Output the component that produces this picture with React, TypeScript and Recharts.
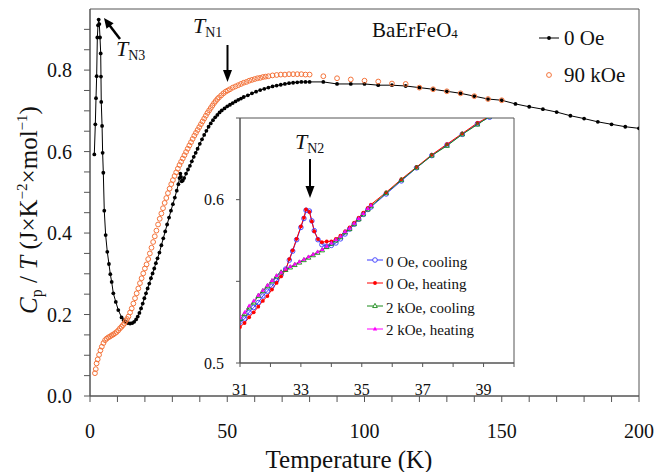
import React from 'react';
import { ComposedChart, Line, XAxis, YAxis, ReferenceArea } from 'recharts';

// ---------- Main chart data ----------
const zeroOeT = [
  1.57, 1.94, 2.19, 2.43, 2.67, 2.91, 3.16, 3.4, 3.64, 3.9, 4.0, 4.1, 4.4, 4.6, 4.85, 5.2, 5.7, 6.3, 6.9, 7.4,
  7.9, 8.5, 9.4, 10.3, 11.5, 12.3, 13.0, 13.8, 14.6, 15.4, 16.1, 16.8, 17.4, 18.0, 18.6, 19.2, 19.8, 20.4, 21.0, 21.6,
  22.2, 22.8, 23.4, 24.0, 24.6, 25.3, 26.0, 26.7, 27.4, 28.1, 28.8, 29.5, 30.2, 30.9, 31.6, 32.2, 32.6, 32.9, 33.1, 33.4,
  33.8, 34.3, 35.0, 35.7, 36.4, 37.1, 37.8, 38.5, 39.2, 40.0, 40.8, 41.6, 42.4, 43.2, 44.0, 44.8, 45.6, 46.4, 47.2, 48.0,
  49.0, 50.0, 51.0, 52.0, 53.0, 54.0, 55.0, 56.0, 57.5, 59.0, 60.5, 62.0, 63.5, 65.0, 66.5, 68.0, 69.5, 71.0, 72.5, 74.0,
  75.5, 77.0, 78.5, 80.0, 85, 90, 95, 100, 105, 110, 115, 120, 125, 130, 135, 140, 145, 150, 155, 160,
  165, 170, 175, 180, 185, 190, 195, 200,
];
const zeroOeCp = [
  0.593, 0.667, 0.731, 0.785, 0.88, 0.91, 0.924, 0.913, 0.88, 0.841, 0.784, 0.722, 0.663, 0.597, 0.548, 0.455, 0.395, 0.354, 0.324, 0.299,
  0.28, 0.252, 0.231, 0.211, 0.193, 0.186, 0.182, 0.179, 0.178, 0.179, 0.182, 0.188, 0.195, 0.204, 0.215, 0.227, 0.24, 0.252, 0.264, 0.276,
  0.289, 0.301, 0.313, 0.326, 0.338, 0.352, 0.37, 0.387, 0.404, 0.421, 0.438, 0.455, 0.471, 0.487, 0.504, 0.52, 0.535, 0.546, 0.538, 0.527,
  0.529, 0.535, 0.546, 0.556, 0.565, 0.576, 0.587, 0.597, 0.607, 0.619, 0.63, 0.641, 0.651, 0.661, 0.669, 0.677, 0.684, 0.69, 0.696, 0.701,
  0.706, 0.711, 0.715, 0.719, 0.723, 0.727, 0.73, 0.734, 0.738, 0.743, 0.747, 0.751, 0.754, 0.757, 0.76, 0.762, 0.764, 0.766, 0.768, 0.769,
  0.77, 0.771, 0.771, 0.771, 0.771, 0.766, 0.766, 0.766, 0.763, 0.763, 0.761, 0.757, 0.753, 0.748, 0.743, 0.736, 0.729, 0.726, 0.717, 0.71,
  0.704, 0.697, 0.688, 0.681, 0.673, 0.667, 0.661, 0.657,
];

const kOe90T = [
  1.8, 2.1, 2.4, 2.8, 3.3, 3.8, 4.3, 4.9, 5.5, 6.1, 6.7, 7.3, 7.9, 8.5, 9.1, 9.7, 10.3, 10.9, 11.5, 12.0,
  12.5, 13.0, 13.5, 14.0, 14.6, 15.2, 15.8, 16.4, 17.0, 17.6, 18.2, 18.8, 19.4, 20.0, 20.6, 21.2, 21.8, 22.4, 23.0, 23.6,
  24.2, 24.8, 25.4, 26.0, 26.6, 27.2, 27.8, 28.4, 29.0, 29.6, 30.2, 30.8, 31.4, 32.0, 32.6, 33.2, 33.8, 34.4, 35.0, 35.6,
  36.2, 36.8, 37.4, 38.0, 38.6, 39.2, 39.8, 40.4, 41.0, 41.6, 42.2, 42.8, 43.4, 44.0, 44.6, 45.2, 45.8, 46.4, 47.0, 47.8,
  48.6, 49.4, 50.2, 51.0, 52.0, 53.0, 54.0, 55.0, 56.0, 57.0, 58.0, 59.0, 60.0, 61.0, 62.0, 63.0, 64.0, 65.0, 66.5, 68.0,
  69.5, 71.0, 72.5, 74.0, 75.5, 77.0, 78.5, 80.0, 85, 90, 95, 100, 105, 110, 115, 120, 125, 130, 135, 140,
  145, 150,
];
const kOe90Cp = [
  0.056, 0.066, 0.08, 0.09, 0.101, 0.112, 0.121, 0.13, 0.137, 0.141, 0.144, 0.146, 0.149, 0.151, 0.154, 0.157, 0.161, 0.166, 0.17, 0.174,
  0.178, 0.184, 0.189, 0.195, 0.205, 0.215, 0.227, 0.24, 0.252, 0.264, 0.277, 0.289, 0.301, 0.313, 0.323, 0.336, 0.35, 0.364, 0.378, 0.392,
  0.406, 0.421, 0.435, 0.448, 0.461, 0.474, 0.486, 0.498, 0.509, 0.52, 0.53, 0.54, 0.549, 0.558, 0.567, 0.575, 0.583, 0.591, 0.599, 0.607,
  0.615, 0.623, 0.631, 0.639, 0.646, 0.653, 0.66, 0.667, 0.674, 0.681, 0.688, 0.695, 0.701, 0.707, 0.713, 0.719, 0.724, 0.729, 0.733, 0.738,
  0.743, 0.747, 0.75, 0.753, 0.757, 0.76, 0.763, 0.766, 0.769, 0.771, 0.774, 0.776, 0.778, 0.78, 0.781, 0.783, 0.784, 0.785, 0.787, 0.788,
  0.789, 0.789, 0.79, 0.79, 0.79, 0.79, 0.789, 0.789, 0.785, 0.78, 0.777, 0.774, 0.772, 0.767, 0.766, 0.757, 0.753, 0.748, 0.743, 0.736,
  0.729, 0.726,
];

const mainXTicks = [0, 10, 20, 30, 40, 50, 60, 70, 80, 90, 100, 110, 120, 130, 140, 150, 160, 170, 180, 190, 200];
const mainXLabels = [0, 50, 100, 150, 200];
const mainYTicks = [0, 0.05, 0.1, 0.15, 0.2, 0.25, 0.3, 0.35, 0.4, 0.45, 0.5, 0.55, 0.6, 0.65, 0.7, 0.75, 0.8, 0.85, 0.9];
const mainYLabels = [0, 0.2, 0.4, 0.6, 0.8];

// ---------- Inset data ----------
const peakT = [
  31.0, 31.15, 31.3, 31.45, 31.6, 31.75, 31.9, 32.05, 32.2, 32.35, 32.5, 32.62, 32.73, 32.86, 33.0, 33.1, 33.17, 33.28, 33.36, 33.44,
  33.56, 33.69, 33.85, 34.0, 34.15, 34.3, 34.45, 34.6, 34.75, 34.9, 35.05, 35.2, 35.3, 35.8, 36.3, 36.8, 37.3, 37.8, 38.3, 38.8, 39.2,
];
const cool0OeCp = [
  0.525, 0.527, 0.531, 0.534, 0.537, 0.541, 0.544, 0.547, 0.5505, 0.554, 0.5575, 0.563, 0.5685, 0.5755, 0.583, 0.5885, 0.5935, 0.593, 0.587, 0.581,
  0.5755, 0.5725, 0.5715, 0.572, 0.5735, 0.576, 0.579, 0.582, 0.585, 0.588, 0.591, 0.594, 0.5955, 0.6035, 0.6115, 0.6195, 0.627, 0.6335, 0.64, 0.6465, 0.6505,
];
const heat0OeCp = [
  0.522, 0.5245, 0.528, 0.531, 0.5345, 0.538, 0.541, 0.545, 0.549, 0.553, 0.557, 0.5636, 0.569, 0.576, 0.5836, 0.589, 0.594, 0.5925, 0.5867, 0.5806,
  0.5759, 0.574, 0.5744, 0.5745, 0.576, 0.578, 0.5805, 0.583, 0.586, 0.589, 0.592, 0.595, 0.597, 0.6045, 0.6125, 0.62, 0.6275, 0.634, 0.6405, 0.647, 0.651,
];
const baseT = [
  31.0, 31.15, 31.3, 31.45, 31.6, 31.75, 31.9, 32.05, 32.2, 32.35, 32.5, 32.65, 32.8, 32.95, 33.1, 33.25, 33.4, 33.55, 33.7, 33.85,
  34.0, 34.15, 34.3, 34.45, 34.6, 34.75, 34.9, 35.05, 35.2, 35.3,
];
const cool2kOeT = [...baseT, 35.8, 36.3, 36.8, 37.3, 37.8, 38.3, 38.8, 39.2];
const cool2kOeCp = [
  0.527, 0.53, 0.534, 0.537, 0.541, 0.544, 0.547, 0.55, 0.553, 0.5555, 0.557, 0.5585, 0.56, 0.5615, 0.563, 0.5645, 0.566, 0.5675, 0.569, 0.571,
  0.573, 0.575, 0.577, 0.58, 0.582, 0.585, 0.588, 0.591, 0.594, 0.596, 0.604, 0.612, 0.6196, 0.627, 0.633, 0.64, 0.646, 0.651,
];
const heat2kOeCp = [
  0.528, 0.531, 0.535, 0.538, 0.5415, 0.5445, 0.5475, 0.5505, 0.5535, 0.5555, 0.5575, 0.559, 0.5605, 0.562, 0.5635, 0.565, 0.5665, 0.568, 0.5695, 0.5715,
  0.5735, 0.5755, 0.5775, 0.5805, 0.5825, 0.5855, 0.5885, 0.5915, 0.5945, 0.5965,
];

const insetXTicks = [31, 32, 33, 34, 35, 36, 37, 38, 39, 40];
const insetXLabels = [31, 33, 35, 37, 39];
const insetYTicks = [0.5, 0.55, 0.6, 0.65];
const insetYLabels = [0.5, 0.6];

const zip = (t: number[], v: number[]) => t.map((T, i) => ({ T, v: v[i] }));

const zeroOeData = zip(zeroOeT, zeroOeCp);
const kOe90Data = zip(kOe90T, kOe90Cp);
const cool0Data = zip(peakT, cool0OeCp);
const heat0Data = zip(peakT, heat0OeCp);
const cool2Data = zip(cool2kOeT, cool2kOeCp);
const heat2Data = zip(baseT, heat2kOeCp);

const SERIF = 'Liberation Serif';
const AX = '#555';
const TXT = '#111';
const ORANGE = '#f4733a';
const BLUE = '#3a3aff';
const RED = '#ff0000';
const GREEN = '#1a8a1a';
const MAGENTA = '#ff00ff';

const tri = (cx: number, cy: number, r: number) =>
  `${cx},${cy - r} ${cx - r * 0.9},${cy + r * 0.6} ${cx + r * 0.9},${cy + r * 0.6}`;

const blueDot = (p: any) => (
  <circle key={'bd' + p.index} cx={p.cx} cy={p.cy} r={2.3} fill="none" stroke={BLUE} strokeWidth={0.9} />
);
const redDot = (p: any) => <circle key={'rd' + p.index} cx={p.cx} cy={p.cy} r={1.9} fill={RED} stroke="none" />;
const greenDot = (p: any) => (
  <polygon key={'gd' + p.index} points={tri(p.cx, p.cy, 2.6)} fill="none" stroke={GREEN} strokeWidth={0.9} />
);
const magDot = (p: any) => <polygon key={'md' + p.index} points={tri(p.cx, p.cy, 2.4)} fill={MAGENTA} stroke="none" />;

function Arrow({ x1, y1, x2, y2, w, hl, hw }: { x1: number; y1: number; x2: number; y2: number; w: number; hl: number; hw: number }) {
  const dx = x2 - x1;
  const dy = y2 - y1;
  const L = Math.sqrt(dx * dx + dy * dy);
  const ux = dx / L;
  const uy = dy / L;
  const bx = x2 - ux * hl;
  const by = y2 - uy * hl;
  const px = -uy;
  const py = ux;
  return (
    <g>
      <line x1={x1} y1={y1} x2={bx + ux} y2={by + uy} stroke="#000" strokeWidth={w} />
      <polygon points={`${x2},${y2} ${bx + px * hw},${by + py * hw} ${bx - px * hw},${by - py * hw}`} fill="#000" />
    </g>
  );
}

const T = (props: any) => <text fontFamily={SERIF} fill={TXT} {...props} />;

export default function App() {
  return (
    <div style={{ position: 'absolute', left: 0, top: 0, width: 656, height: 472, background: '#fff', fontFamily: SERIF }}>
      <div style={{ position: 'absolute', left: 0, top: 0 }}>
        <ComposedChart width={656} height={472} margin={{ top: 9, right: 17, left: 0, bottom: 0 }} style={{ fontFamily: SERIF }}>
          <XAxis
            type="number"
            dataKey="T"
            domain={[0, 200]}
            ticks={mainXTicks}
            allowDataOverflow
            interval={0}
            height={76}
            tickSize={6}
            tickMargin={22}
            tickFormatter={(v: number) => (mainXLabels.includes(v) ? String(v) : '')}
            tick={{ fontSize: 20, fill: TXT, fontFamily: SERIF }}
            axisLine={{ stroke: AX }}
            tickLine={{ stroke: AX }}
          />
          <YAxis
            type="number"
            domain={[0, 0.95]}
            ticks={mainYTicks}
            allowDataOverflow
            interval={0}
            width={90}
            tickSize={6}
            tickMargin={12}
            tickFormatter={(v: number) => (mainYLabels.includes(v) ? v.toFixed(1) : '')}
            tick={{ fontSize: 20, fill: TXT, fontFamily: SERIF }}
            axisLine={{ stroke: AX }}
            tickLine={{ stroke: AX }}
          />
          <ReferenceArea x1={0} x2={200} y1={0} y2={0.95} fill="none" stroke={AX} strokeWidth={1} ifOverflow="visible" />
          <Line
            data={zeroOeData}
            dataKey="v"
            stroke="#000"
            strokeWidth={1}
            dot={{ r: 1.9, fill: '#000', stroke: 'none' }}
            activeDot={false}
            isAnimationActive={false}
          />
          <Line
            data={kOe90Data}
            dataKey="v"
            stroke="none"
            dot={{ r: 2.4, fill: 'none', stroke: ORANGE, strokeWidth: 1 }}
            activeDot={false}
            isAnimationActive={false}
          />
        </ComposedChart>
      </div>

      <div style={{ position: 'absolute', left: 190, top: 100 }}>
        <ComposedChart width={340} height={300} margin={{ top: 18, right: 16, left: 0, bottom: 0 }} style={{ fontFamily: SERIF }}>
          <XAxis
            type="number"
            dataKey="T"
            domain={[31, 40]}
            ticks={insetXTicks}
            allowDataOverflow
            interval={0}
            height={37}
            tickSize={4}
            tickMargin={17}
            tickFormatter={(v: number) => (insetXLabels.includes(v) ? String(v) : '')}
            tick={{ fontSize: 16, fill: TXT, fontFamily: SERIF }}
            axisLine={{ stroke: AX }}
            tickLine={{ stroke: AX }}
          />
          <YAxis
            type="number"
            domain={[0.5, 0.65]}
            ticks={insetYTicks}
            allowDataOverflow
            interval={0}
            width={50}
            tickSize={4}
            tickMargin={12}
            tickFormatter={(v: number) => (insetYLabels.includes(v) ? v.toFixed(1) : '')}
            tick={{ fontSize: 16, fill: TXT, fontFamily: SERIF }}
            axisLine={{ stroke: AX }}
            tickLine={{ stroke: AX }}
          />
          <ReferenceArea x1={31} x2={40} y1={0.5} y2={0.65} fill="none" stroke={AX} strokeWidth={1} ifOverflow="visible" />
          <Line data={cool0Data} dataKey="v" stroke={BLUE} strokeWidth={1} dot={blueDot} activeDot={false} isAnimationActive={false} />
          <Line data={heat0Data} dataKey="v" stroke={RED} strokeWidth={1} dot={redDot} activeDot={false} isAnimationActive={false} />
          <Line data={cool2Data} dataKey="v" stroke={GREEN} strokeWidth={1} dot={greenDot} activeDot={false} isAnimationActive={false} />
          <Line data={heat2Data} dataKey="v" stroke={MAGENTA} strokeWidth={1} dot={magDot} activeDot={false} isAnimationActive={false} />
        </ComposedChart>
      </div>

      <svg width={656} height={472} style={{ position: 'absolute', left: 0, top: 0, pointerEvents: 'none' }}>
        {/* axis titles */}
        <T x={349} y={468} fontSize={25} textAnchor="middle">
          Temperature (K)
        </T>
        <T x={37} y={210} fontSize={25} textAnchor="middle" transform="rotate(-90 37 210)">
          <tspan fontStyle="italic">C</tspan>
          <tspan fontSize={16} dy={5}>p</tspan>
          <tspan dy={-5}> / </tspan>
          <tspan fontStyle="italic">T</tspan>
          <tspan> (J×K</tspan>
          <tspan fontSize={15} dy={-10}>−2</tspan>
          <tspan dy={10}>×mol</tspan>
          <tspan fontSize={15} dy={-10}>−1</tspan>
          <tspan dy={10}>)</tspan>
        </T>

        {/* compound name */}
        <T x={372} y={37} fontSize={21}>
          BaErFeO<tspan fontSize={13} dy={1}>4</tspan>
        </T>

        {/* main legend */}
        <line x1={539} y1={38} x2={559} y2={38} stroke="#000" strokeWidth={1} />
        <circle cx={549} cy={38} r={1.9} fill="#000" />
        <T x={564} y={45} fontSize={21}>0 Oe</T>
        <circle cx={549} cy={75} r={2.4} fill="none" stroke={ORANGE} strokeWidth={1} />
        <T x={564} y={82} fontSize={21}>90 kOe</T>

        {/* T_N3 */}
        <T x={116} y={56} fontSize={22}>
          <tspan fontStyle="italic">T</tspan>
          <tspan fontSize={14} dy={4}>N3</tspan>
        </T>
        <Arrow x1={120} y1={39} x2={104} y2={18} w={2.5} hl={10} hw={4.5} />

        {/* T_N1 */}
        <T x={193} y={33} fontSize={22}>
          <tspan fontStyle="italic">T</tspan>
          <tspan fontSize={14} dy={4}>N1</tspan>
        </T>
        <Arrow x1={227.5} y1={45} x2={227.5} y2={82} w={2} hl={12} hw={4.5} />

        {/* T_N2 */}
        <T x={295} y={149} fontSize={22}>
          <tspan fontStyle="italic">T</tspan>
          <tspan fontSize={14} dy={4}>N2</tspan>
        </T>
        <Arrow x1={310} y1={159} x2={310} y2={198} w={2} hl={12} hw={4.5} />

        {/* inset legend */}
        <line x1={367} y1={260} x2={383} y2={260} stroke={BLUE} strokeWidth={1} />
        <circle cx={375} cy={260} r={2.3} fill="#fff" stroke={BLUE} strokeWidth={0.9} />
        <T x={386} y={266.5} fontSize={15}>0 Oe, cooling</T>

        <line x1={367} y1={283} x2={383} y2={283} stroke={RED} strokeWidth={1} />
        <circle cx={375} cy={283} r={1.9} fill={RED} />
        <T x={386} y={289} fontSize={15}>0 Oe, heating</T>

        <line x1={367} y1={306} x2={383} y2={306} stroke={GREEN} strokeWidth={1} />
        <polygon points={tri(375, 306, 2.6)} fill="#fff" stroke={GREEN} strokeWidth={0.9} />
        <T x={386} y={312.5} fontSize={15}>2 kOe, cooling</T>

        <line x1={367} y1={329} x2={383} y2={329} stroke={MAGENTA} strokeWidth={1} />
        <polygon points={tri(375, 329, 2.4)} fill={MAGENTA} />
        <T x={386} y={335} fontSize={15}>2 kOe, heating</T>
      </svg>
    </div>
  );
}
